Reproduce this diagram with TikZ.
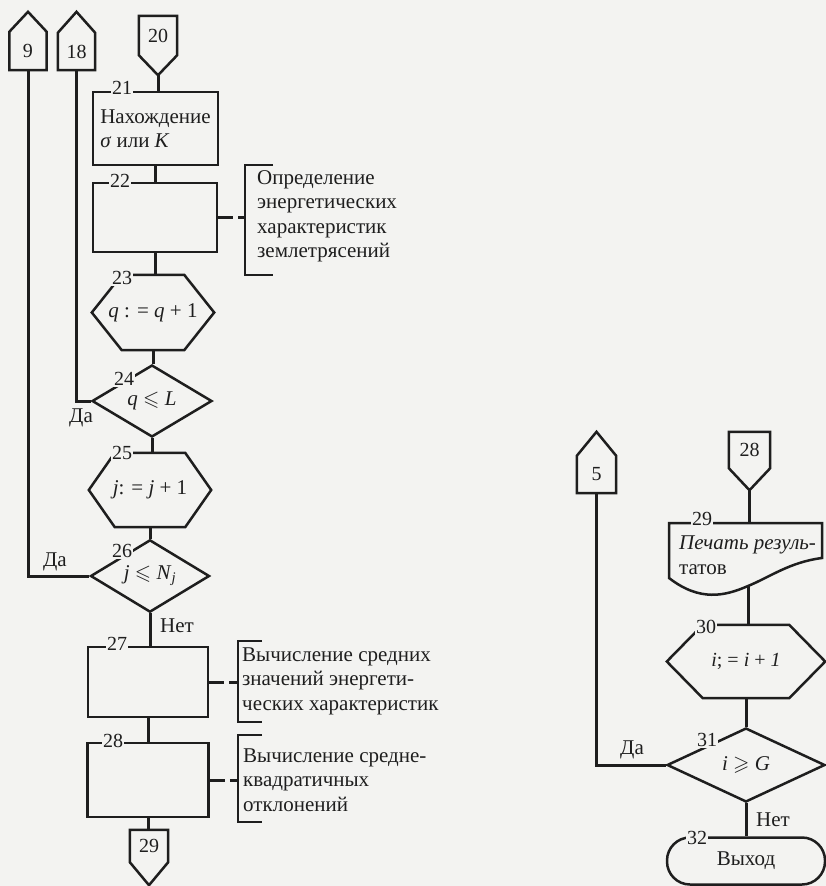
\documentclass[tikz,border=0pt]{standalone}
\usepackage{fontspec}
\setmainfont{Liberation Serif}
\usepackage{amssymb}
\usetikzlibrary{shapes.geometric,calc}
\definecolor{paper}{RGB}{243,243,241}
\definecolor{ink}{RGB}{30,30,30}
\tikzset{
  every node/.style={text=ink},
  txt/.style={font=\fontsize{21}{24.5}\selectfont},
  num/.style={font=\fontsize{20}{21}\selectfont, fill=paper, inner sep=1pt},
  outline/.style={draw=ink, line width=2.5pt, line join=miter},
  link/.style={draw=ink, line width=3pt},
  procbox/.style={outline, rectangle, inner sep=0pt, txt, align=left},
  hexbox/.style={rectangle, inner sep=0pt, txt},
  decision/.style={outline, diamond, inner sep=0pt, txt},
  conn/.style={rectangle, inner sep=0pt, font=\fontsize{20}{21}\selectfont},
  note/.style={txt, anchor=west, align=left, inner sep=0pt},
  remark/.style={link, dash pattern=on 15pt off 5pt on 40pt off 5pt},
}
% hexagon (preparation block) round a node; #2 = horizontal slant
\newcommand\hexoutline[2]{%
  \draw[outline] (#1.west) -- ([xshift=#2]#1.north west) -- ([xshift=-#2]#1.north east)
    -- (#1.east) -- ([xshift=-#2]#1.south east) -- ([xshift=#2]#1.south west) -- cycle;}
% off-page connector pointing up; #2 = height of the point
\newcommand\upconn[2]{%
  \draw[outline] (#1.south west) -- (#1.north west) -- ([yshift=#2]#1.north)
    -- (#1.north east) -- (#1.south east) -- cycle;}
% off-page connector pointing down
\newcommand\downconn[2]{%
  \draw[outline] (#1.north west) -- (#1.south west) -- ([yshift=-#2]#1.south)
    -- (#1.south east) -- (#1.north east) -- cycle;}
\begin{document}
\begin{tikzpicture}[x=1pt,y=-1pt]
\fill[paper] (0,0) rectangle (826,886);
\useasboundingbox (0,0) rectangle (826,886);

% ---------- left column ----------
\node[conn, minimum width=37pt, minimum height=38pt] (c9) at (28,51) {9};
\upconn{c9}{20pt}
\node[conn, minimum width=37pt, minimum height=37pt] (c18) at (76.5,51.5) {18};
\upconn{c18}{21pt}
\node[conn, minimum width=38pt, minimum height=39pt] (c20) at (158,35.5) {20};
\downconn{c20}{20pt}
\coordinate (c20tip) at ([yshift=-20pt]c20.south);

\node[procbox, minimum width=125pt, minimum height=73pt] (b21) at (155.5,128.5)
  {Нахождение\\\textit{σ} или \textit{K}};
\node[procbox, minimum width=124pt, minimum height=69pt] (b22) at (155,217.5) {};
\node[hexbox, minimum width=122pt, minimum height=75pt] (h23) at (153,312.5)
  {\textit{q} : = \textit{q} + 1};
\hexoutline{h23}{30pt}
\node[decision, minimum width=120pt, minimum height=72pt] (d24) at (152,401)
  {\textit{q} $\leqslant$ \textit{L}};
\node[hexbox, minimum width=122pt, minimum height=74pt] (h25) at (150,490)
  {\textit{j}: = \textit{j} + 1};
\hexoutline{h25}{26pt}
\node[decision, minimum width=119pt, minimum height=72pt] (d26) at (150,576)
  {\textit{j} $\leqslant$ \textit{N}\textsubscript{\textit{j}}};
\node[procbox, minimum width=120pt, minimum height=70pt] (b27) at (148,682) {};
\node[procbox, minimum width=121pt, minimum height=74pt] (b28) at (148,780) {};
\node[conn, minimum width=38pt, minimum height=32pt] (c29) at (149,846) {29};
\downconn{c29}{23pt}

% flow lines
\draw[link] (c20tip) -- (c20tip |- b21.north);
\draw[link] (b21.south) -- (b21.south |- b22.north);
\draw[link] (b22.south) -- (b22.south |- h23.north);
\draw[link] (h23.south) -- (h23.south |- d24.north);
\draw[link] (d24.south) -- (d24.south |- h25.north);
\draw[link] (h25.south) -- (h25.south |- d26.north);
\draw[link] (d26.south) -- (d26.south |- b27.north);
\draw[link] (b27.south) -- (b27.south |- b28.north);
\draw[link] (b28.south) -- (b28.south |- c29.north);
\draw[link] (c18.south) |- (d24.west);
\draw[link] (c9.south) |- (d26.west);

% comments
\coordinate (k22) at (245,219);
\draw[outline] (273,165) -- (245,165) -- (245,275) -- (273,275);
\draw[remark] (b22.east) -- (b22.east -| k22);
\node[note] (k22t) at (257,216.5) {Определение\\энергетических\\характеристик\\землетрясений};

\coordinate (k27) at (238,682);
\draw[outline] (262,641) -- (238,641) -- (238,722) -- (262,722);
\draw[remark] (b27.east) -- (b27.east -| k27);
\node[note] (k27t) at (242,681) {Вычисление средних\\значений энергети-\\ческих характеристик};

\coordinate (k28) at (238,780);
\draw[outline] (262,735) -- (238,735) -- (238,822) -- (262,822);
\draw[remark] (b28.east) -- (b28.east -| k28);
\node[note] (k28t) at (243,780) {Вычисление средне-\\квадратичных\\отклонений};

% branch labels
\node[txt, inner sep=0pt] (y24) at (81,418) {Да};
\node[txt, inner sep=0pt] (y26) at (55,562) {Да};
\node[txt, inner sep=0pt] (n26) at (177,626) {Нет};

% ---------- right column ----------
\node[conn, minimum width=39pt, minimum height=37pt] (c5) at (596.5,474.5) {5};
\upconn{c5}{24pt}
\node[conn, minimum width=41pt, minimum height=36pt] (c28) at (749.5,450) {28};
\downconn{c28}{22pt}
\coordinate (c28tip) at ([yshift=-22pt]c28.south);

% print block (document shape)
\node[rectangle, inner sep=0pt, minimum width=153pt, minimum height=58pt] (b29) at (745.5,552) {};
\coordinate (b29out) at (748,586);
\draw[outline] (669,578) -- (669,523) -- (822,523) -- (822,558)
  .. controls (790,562) and (770,577) .. (b29out)
  .. controls (725,596) and (700,602) .. (669,578) -- cycle;
\node[note] (t29) at (679,555) {\textit{Печать резуль-}\\татов};

\node[hexbox, minimum width=158pt, minimum height=73pt, font=\fontsize{20}{24}\selectfont] (h30) at (746,661.5)
  {\textit{i}; = \textit{i} + \textit{1}};
\hexoutline{h30}{36pt}
\node[decision, minimum width=158pt, minimum height=74pt] (d31) at (746,765)
  {\textit{i} $\geqslant$ \textit{G}};
\node[outline, rectangle, rounded corners=23pt, minimum width=158pt, minimum height=47pt, txt] (t32) at (746,861) {Выход};

\draw[link] (c28tip) -- (c28tip |- b29.north);
\draw[link] (b29out) -- (b29out |- h30.north);
\draw[link] (h30.south) -- (h30.south |- d31.north);
\draw[link] (d31.south) -- (d31.south |- t32.north);
\draw[link] (c5.south) |- (d31.west);

\node[txt, inner sep=0pt] (y31) at (632,750) {Да};
\node[txt, inner sep=0pt] (n31) at (773,820) {Нет};

% block numbers, set on the outlines
\node[num] (n21) at (122,88) {21};
\node[num] (n22) at (120,181) {22};
\node[num] (n23) at (122,278) {23};
\node[num] (n24) at (124,379) {24};
\node[num] (n25) at (122,453) {25};
\node[num] (n26l) at (122,551) {26};
\node[num] (n27) at (117,644) {27};
\node[num] (n28) at (113,741) {28};
\node[num] (n29) at (702,519) {29};
\node[num] (n30) at (706,627) {30};
\node[num] (n31l) at (707,740) {31};
\node[num] (n32) at (697,838) {32};
\end{tikzpicture}
\end{document}
